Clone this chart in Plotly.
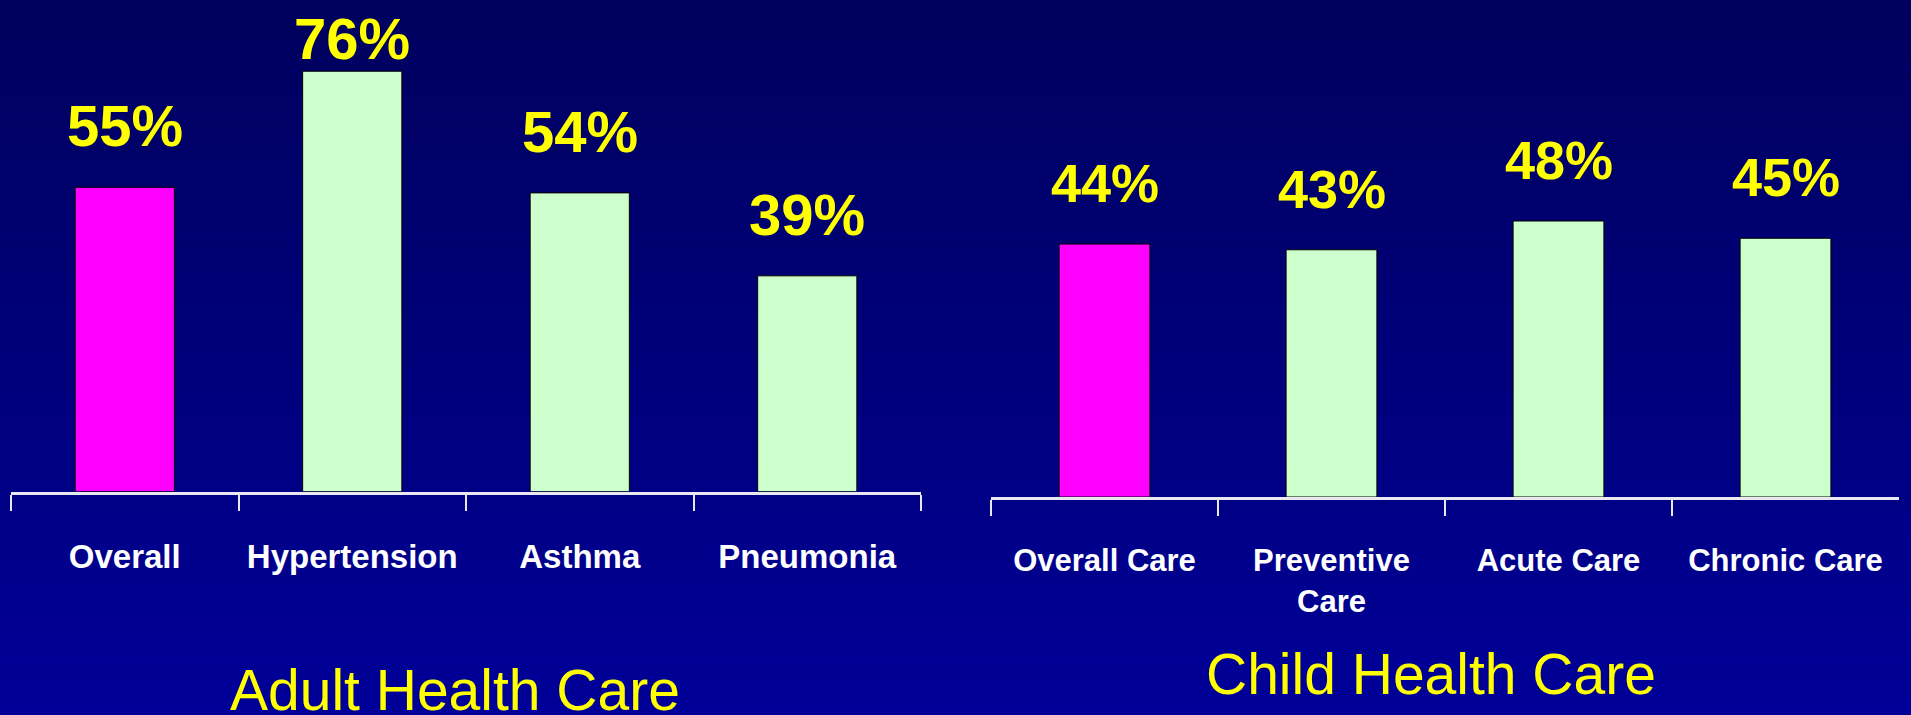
import plotly.graph_objects as go

# adult health care
adult_cats = ["Overall", "Hypertension", "Asthma", "Pneumonia"]
adult_vals = [55, 76, 54, 39]
# child health care
child_cats = ["Overall Care", "Preventive<br>Care", "Acute Care", "Chronic Care"]
child_vals = [44, 43, 48, 45]

W, H = 1911, 715
MAGENTA = "#FF00FF"
PALE = "#CCFFCC"
BOLD = "Liberation Sans, Arial, sans-serif"
REGULAR = "Liberation Sans, Arial, sans-serif"

bar_colors = [MAGENTA, PALE, PALE, PALE]
adult_shift = [37, 8, 37, 37]   # 76% is squeezed against the top edge
child_shift = [39, 39, 39, 39]

fig = go.Figure()

fig.add_trace(go.Bar(x=adult_cats, y=adult_vals, width=0.436,
                     marker=dict(color=bar_colors, line=dict(color="black", width=1)),
                     xaxis="x", yaxis="y", showlegend=False, hoverinfo="x+y"))
fig.add_trace(go.Bar(x=child_cats, y=child_vals, width=0.40,
                     marker=dict(color=bar_colors, line=dict(color="black", width=1)),
                     xaxis="x2", yaxis="y2", showlegend=False, hoverinfo="x+y"))

annos = []
for c, v, s in zip(adult_cats, adult_vals, adult_shift):
    annos.append(dict(x=c, y=v, xref="x", yref="y", text=f"<b>{v}%</b>", showarrow=False,
                      yanchor="bottom", yshift=s - 10,
                      font=dict(family=BOLD, size=58, color="#FFFF00")))
for c, v, s in zip(child_cats, child_vals, child_shift):
    annos.append(dict(x=c, y=v, xref="x2", yref="y2", text=f"<b>{v}%</b>", showarrow=False,
                      yanchor="bottom", yshift=s - 10,
                      font=dict(family=BOLD, size=54, color="#FFFF00")))

annos.append(dict(x=455 / W, y=(H - 668) / H, xref="paper", yref="paper", text="Adult Health Care",
                  showarrow=False, xanchor="center", yanchor="top", yshift=12,
                  font=dict(family=REGULAR, size=57, color="#FFFF00")))
annos.append(dict(x=1431 / W, y=(H - 652) / H, xref="paper", yref="paper", text="Child Health Care",
                  showarrow=False, xanchor="center", yanchor="top", yshift=12,
                  font=dict(family=REGULAR, size=57, color="#FFFF00")))

# background gradient, dark navy at top -> brighter blue at bottom
shapes = []
n = 60
for i in range(n):
    t = i / (n - 1)
    b = int(0x5E + (0x98 - 0x5E) * t)
    shapes.append(dict(type="rect", xref="paper", yref="paper", x0=0, x1=1,
                       y0=1 - (i + 1) / n, y1=1 - i / n, line=dict(width=0),
                       fillcolor=f"rgb(0,0,{b})", layer="below"))

xcommon = dict(type="category", showline=True, linecolor="#E8E8F0", linewidth=3,
               ticks="outside", tickson="boundaries", ticklen=16, tickcolor="#E8E8F0", tickwidth=2,
               showgrid=False, zeroline=False, range=[-0.5, 3.5], tickangle=0, automargin=False,
               ticklabelstandoff=34, tickprefix="<b>", ticksuffix="</b>")
ycommon = dict(visible=False, showgrid=False, zeroline=False)

fig.update_layout(
    width=W, height=H,
    margin=dict(l=0, r=0, t=0, b=0, autoexpand=False),
    paper_bgcolor="#00007A", plot_bgcolor="rgba(0,0,0,0)",
    shapes=shapes, annotations=annos,
    xaxis=dict(domain=[11 / W, 921 / W], anchor="y",
               tickfont=dict(family=BOLD, size=33, color="white"), **xcommon),
    yaxis=dict(domain=[(H - 491.5) / H, 1], range=[0, 491.5 / 5.53], **ycommon),
    xaxis2=dict(domain=[991 / W, 1899 / W], anchor="y2",
                tickfont=dict(family=BOLD, size=31, color="white"), **xcommon),
    yaxis2=dict(domain=[(H - 497) / H, 1], range=[0, 497 / 5.75], **ycommon),
)

# drop the default page margin so the figure fills the window
fig.write_html("out.html", config={"displayModeBar": False},
               post_script="document.body.style.margin='0';")
